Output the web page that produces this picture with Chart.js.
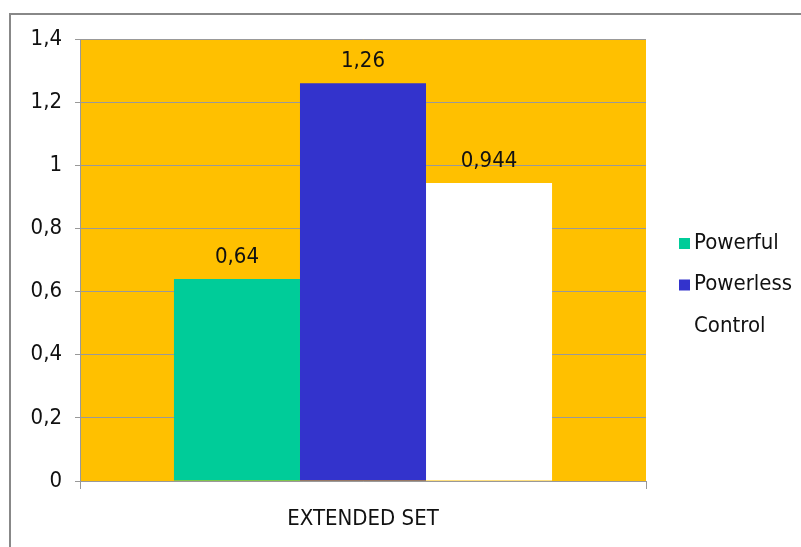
<!DOCTYPE html>
<html>
<head>
<meta charset="utf-8">
<script src="https://cdn.jsdelivr.net/npm/chart.js@4/dist/chart.umd.min.js"></script>
<style>
  html, body { margin: 0; padding: 0; background: #fff; }
  #wrap { width: 801px; height: 547px; }
</style>
</head>
<body>
<div id="wrap"><canvas id="chart" width="801" height="547"></canvas></div>
<script>
// Данные
const categories = ['EXTENDED SET'];
const seriesNames = ['Powerful', 'Powerless', 'Control'];
const seriesValues = [[0.64], [1.26], [0.944]];
const seriesLabels = ['0,64', '1,26', '0,944'];
const seriesColors = ['#00CC99', '#3333CC', '#FFFFFF'];
const yTicks = [0, 0.2, 0.4, 0.6, 0.8, 1, 1.2, 1.4];

const FONT = '"DejaVu Sans Condensed", "DejaVu Sans"';
const FONT_SIZE = 22;

// Рамка, фон области графика, подписи значений и легенда
const decor = {
  id: 'decor',
  beforeDraw(chart) {
    const { ctx, chartArea: a } = chart;
    ctx.save();
    ctx.strokeStyle = '#888';
    ctx.lineWidth = 2;
    ctx.strokeRect(10, 14, 900, 700);
    ctx.fillStyle = '#FFC000';
    ctx.fillRect(a.left, a.top, a.right - a.left, a.bottom - a.top);
    ctx.restore();
  },
  afterDatasetsDraw(chart) {
    const { ctx } = chart;
    ctx.save();
    ctx.font = FONT_SIZE + 'px ' + FONT;
    ctx.fillStyle = '#111';
    ctx.textAlign = 'center';
    ctx.textBaseline = 'middle';
    chart.data.datasets.forEach((ds, i) => {
      const bar = chart.getDatasetMeta(i).data[0];
      ctx.fillText(seriesLabels[i], bar.x, bar.y - 22);
    });
    // легенда
    const lx = 679, ly = 243, step = 41.5;
    seriesNames.forEach((name, i) => {
      const y = ly + i * step;
      ctx.fillStyle = seriesColors[i];
      ctx.fillRect(lx, y - 5, 11, 11);
      ctx.fillStyle = '#111';
      ctx.textAlign = 'left';
      ctx.fillText(name, lx + 15, y);
    });
    ctx.restore();
  }
};

new Chart(document.getElementById('chart').getContext('2d'), {
  type: 'bar',
  data: {
    labels: categories,
    datasets: seriesNames.map((name, i) => ({
      label: name,
      data: seriesValues[i],
      backgroundColor: seriesColors[i],
      borderWidth: 0,
      barPercentage: 1,
      categoryPercentage: 0.668
    }))
  },
  options: {
    responsive: false,
    animation: false,
    layout: { padding: { top: 39, right: 155, left: 0, bottom: 0 } },
    plugins: {
      legend: { display: false },
      tooltip: { enabled: false }
    },
    scales: {
      x: {
        grid: { offset: true, drawOnChartArea: false, drawTicks: true, tickLength: 8, color: '#999' },
        border: { color: '#999' },
        ticks: { color: '#111', padding: 17, font: { family: FONT, size: FONT_SIZE } },
        afterFit(s) { s.height = 66; }
      },
      y: {
        min: 0,
        max: 1.4,
        afterBuildTicks(s) { s.ticks = yTicks.map(v => ({ value: v })); },
        grid: { color: '#999', tickLength: 5 },
        border: { color: '#999' },
        ticks: {
          color: '#111',
          padding: 13,
          font: { family: FONT, size: FONT_SIZE },
          callback: v => String(Math.round(v * 10) / 10).replace('.', ',')
        },
        afterFit(s) { s.width = 80; }
      }
    }
  },
  plugins: [decor]
});
</script>
</body>
</html>
